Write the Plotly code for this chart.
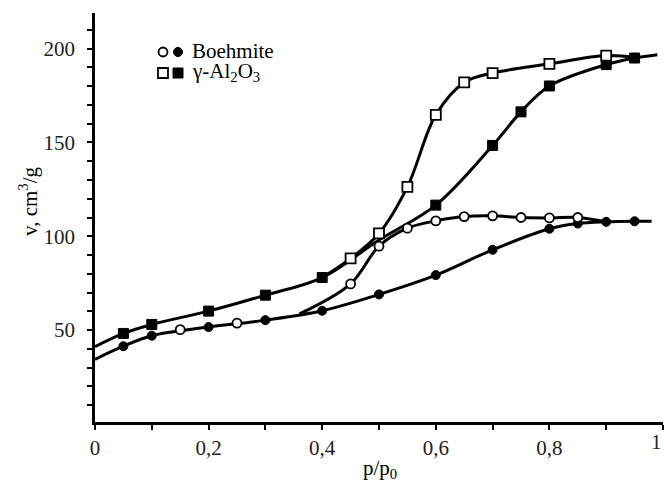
import plotly.graph_objects as go

# ---- data ----
# Boehmite, adsorption (filled circles)
boe_ads_x = [0.05, 0.10, 0.20, 0.30, 0.40, 0.50, 0.60, 0.70, 0.80, 0.85, 0.90, 0.95]
boe_ads_v = [41.4, 47.0, 51.6, 55.3, 60.3, 69.0, 79.3, 92.8, 104.0, 106.8, 107.7, 108.0]
# Boehmite, desorption (open circles)
boe_des_x = [0.15, 0.25, 0.45, 0.50, 0.55, 0.60, 0.65, 0.70, 0.75, 0.80, 0.85]
boe_des_v = [50.2, 53.7, 74.6, 94.7, 104.3, 108.2, 110.5, 110.9, 110.0, 109.8, 110.0]
# Boehmite curves (smooth lines)
boe_curve1_x = [0.0, 0.05, 0.10, 0.20, 0.30, 0.40, 0.50, 0.60, 0.70, 0.80, 0.85, 0.90, 0.95, 0.98]
boe_curve1_v = [34.4, 41.4, 47.0, 51.6, 55.3, 60.3, 69.0, 79.3, 92.8, 104.0, 106.8, 107.7, 108.0, 108.0]
boe_curve2_x = [0.36, 0.45, 0.50, 0.55, 0.60, 0.65, 0.70, 0.75, 0.80, 0.85, 0.90]
boe_curve2_v = [58.6, 74.6, 94.7, 104.3, 108.2, 110.5, 110.9, 110.0, 109.8, 110.0, 107.7]

# gamma-Al2O3, adsorption (filled squares)
gam_ads_x = [0.05, 0.10, 0.20, 0.30, 0.40, 0.60, 0.70, 0.75, 0.80, 0.90, 0.95]
gam_ads_v = [48.2, 53.0, 60.1, 68.6, 78.0, 116.6, 148.4, 166.3, 180.1, 191.5, 195.0]
# gamma-Al2O3, desorption (open squares)
gam_des_x = [0.45, 0.50, 0.55, 0.60, 0.65, 0.70, 0.80, 0.90]
gam_des_v = [88.2, 101.5, 126.3, 164.7, 182.0, 187.0, 191.9, 196.3]
# gamma-Al2O3 curves
gam_curve1_x = [0.0, 0.05, 0.10, 0.20, 0.30, 0.40, 0.50, 0.60, 0.70, 0.75, 0.80, 0.90, 0.95, 0.99]
gam_curve1_v = [41.1, 48.2, 53.0, 60.1, 68.6, 78.0, 98.0, 116.6, 148.4, 166.3, 180.1, 191.5, 195.0, 196.8]
gam_curve2_x = [0.40, 0.45, 0.50, 0.55, 0.60, 0.65, 0.70, 0.80, 0.90, 0.95]
gam_curve2_v = [78.0, 88.2, 101.5, 126.3, 164.7, 182.0, 187.0, 191.9, 196.3, 195.3]

x_tickvals = [i / 10 for i in range(11)]
x_ticktext = ["0", "", "0,2", "", "0,4", "", "0,6", "", "0,8", "", "1"]
y_tickvals = list(range(10, 220, 10))
y_ticktext = [str(v) if v % 50 == 0 else "" for v in y_tickvals]

FONT = "Liberation Serif, Times New Roman, serif"
LW = 3

fig = go.Figure()

for cx, cv in [(boe_curve1_x, boe_curve1_v), (boe_curve2_x, boe_curve2_v),
               (gam_curve1_x, gam_curve1_v), (gam_curve2_x, gam_curve2_v)]:
    fig.add_trace(go.Scatter(x=cx, y=cv, mode="lines",
                             line=dict(color="black", width=LW, shape="spline", smoothing=1.0),
                             hoverinfo="skip", showlegend=False))

fig.add_trace(go.Scatter(x=boe_ads_x, y=boe_ads_v, mode="markers", showlegend=False,
                         marker=dict(symbol="circle", size=9, color="black",
                                     line=dict(color="black", width=1))))
fig.add_trace(go.Scatter(x=gam_ads_x, y=gam_ads_v, mode="markers", showlegend=False,
                         marker=dict(symbol="square", size=10, color="black",
                                     line=dict(color="black", width=1))))
fig.add_trace(go.Scatter(x=boe_des_x, y=boe_des_v, mode="markers", showlegend=False,
                         marker=dict(symbol="circle", size=9, color="white",
                                     line=dict(color="black", width=1.8))))
fig.add_trace(go.Scatter(x=gam_des_x, y=gam_des_v, mode="markers", showlegend=False,
                         marker=dict(symbol="square", size=10, color="white",
                                     line=dict(color="black", width=1.8))))

# legend (custom: two symbols per entry)
W, H = 664, 487
ML, MR, MT, MB = 95, 1, 13, 65
pw, ph = W - ML - MR, H - MT - MB

def px_x(px):
    return (px - ML) / pw

def px_y(py):
    return (H - MB - py) / ph

shapes = []
def legend_marker(cx, cy, kind, filled):
    common = dict(xref="paper", yref="paper", xsizemode="pixel", ysizemode="pixel",
                  xanchor=px_x(cx), yanchor=px_y(cy),
                  fillcolor="black" if filled else "white",
                  line=dict(color="black", width=1 if filled else 1.8))
    r = 4.5 if kind == "circle" else 5
    shapes.append(dict(type=kind, x0=-r, x1=r, y0=-r, y1=r, **common))

legend_marker(163, 52, "circle", False)
legend_marker(178, 52, "circle", True)
legend_marker(163, 73, "rect", False)
legend_marker(178, 73, "rect", True)

annotations = [
    dict(text="Boehmite", x=px_x(190), y=px_y(51), xref="paper", yref="paper",
         xanchor="left", yanchor="middle", showarrow=False,
         font=dict(family=FONT, size=21, color="black")),
    dict(text="γ-Al<sub>2</sub>O<sub>3</sub>", x=px_x(190), y=px_y(72), xref="paper", yref="paper",
         xanchor="left", yanchor="middle", showarrow=False,
         font=dict(family=FONT, size=21, color="black")),
    dict(text="v, cm<sup>3</sup>/g", x=px_x(29), y=px_y(202), xref="paper", yref="paper",
         xanchor="center", yanchor="middle", showarrow=False, textangle=-90,
         font=dict(family=FONT, size=21, color="black")),
    dict(text="p/p<sub>0</sub>", x=px_x(380), y=px_y(469), xref="paper", yref="paper",
         xanchor="center", yanchor="middle", showarrow=False,
         font=dict(family=FONT, size=21, color="black")),
    # last x tick label at the right edge
    dict(text=x_ticktext[-1], x=1, y=px_y(442), xref="paper", yref="paper",
         xanchor="right", xshift=1, yanchor="middle", showarrow=False,
         font=dict(family=FONT, size=21, color="#222")),
]

fig.update_layout(
    width=W, height=H,
    margin=dict(l=ML, r=MR, t=MT, b=MB, pad=0),
    paper_bgcolor="white", plot_bgcolor="white",
    font=dict(family=FONT, size=21, color="black"),
    showlegend=False,
    shapes=shapes,
    annotations=annotations,
    xaxis=dict(range=[0, 1], tickvals=x_tickvals, ticktext=x_ticktext[:-1] + [""],
               ticks="outside", ticklen=5, tickwidth=1.5, tickcolor="black",
               showline=True, linecolor="black", linewidth=2.5,
               showgrid=False, zeroline=False, fixedrange=True,
               tickfont=dict(family=FONT, size=21, color="#222")),
    yaxis=dict(range=[1, 219], tickvals=y_tickvals, ticktext=y_ticktext,
               ticks="outside", ticklen=5, tickwidth=1.5, tickcolor="black",
               showline=True, linecolor="black", linewidth=2.5,
               showgrid=False, zeroline=False, fixedrange=True,
               ticklabelstandoff=8,
               tickfont=dict(family=FONT, size=21, color="#222")),
)

fig.write_html("out.html", config={"displayModeBar": False},
               post_script="document.body.style.margin='0';document.body.style.padding='0';document.body.style.overflow='hidden';")
